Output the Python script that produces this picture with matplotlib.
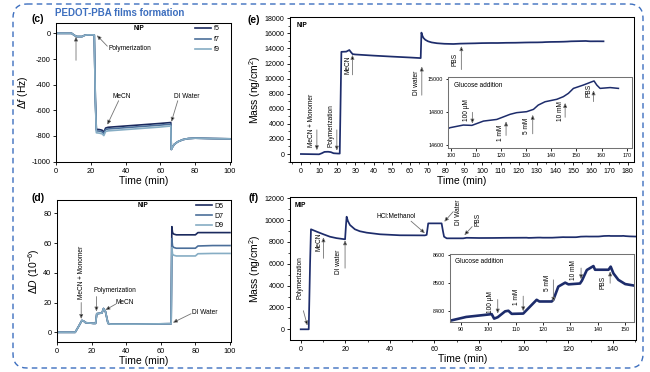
import matplotlib
matplotlib.use('Agg')
import matplotlib.pyplot as plt
from matplotlib.patches import FancyBboxPatch
from matplotlib.ticker import MultipleLocator

plt.rcParams['font.family'] = ['Liberation Sans', 'DejaVu Sans']
plt.rcParams['axes.unicode_minus'] = False
plt.rcParams['mathtext.fontset'] = 'custom'
plt.rcParams['mathtext.rm'] = 'Liberation Sans'
plt.rcParams['mathtext.it'] = 'Liberation Sans:italic'

# ---------------- data ----------------
# (c) frequency shift
c_time = [0, 9, 10.5, 12, 15, 16.5, 18, 22, 22.6, 23.2, 25, 26.5, 27.5, 28.5, 30, 40, 50, 60, 66,
          66.3, 66.8, 68, 70, 73, 76, 80, 90, 100]
f5 = [0, 0, -15, -25, -25, -15, -12, -12, -500, -748, -750, -755, -770, -738, -732, -722, -712, -702, -695,
      -905, -890, -865, -845, -828, -820, -817, -820, -822]
f7 = [0, 0, -15, -25, -25, -15, -12, -12, -510, -760, -762, -768, -782, -750, -745, -735, -725, -715, -708,
      -905, -890, -865, -845, -828, -820, -817, -820, -822]
f9 = [0, 0, -15, -25, -25, -15, -12, -12, -520, -775, -778, -783, -797, -765, -760, -750, -740, -730, -722,
      -905, -890, -865, -845, -828, -820, -817, -820, -822]
c_labels = ['f5', 'f7', 'f9']

# (d) dissipation
d_time = [0, 10.5, 12.5, 14.4, 15.5, 16.5, 21, 22.3, 23, 26, 26.9, 28, 29.5, 31, 45, 66,
          66.4, 66.8, 67.5, 69, 72, 80, 81.5, 90, 100]
D5 = [0, 0, 4, 8, 7.5, 6.5, 6, 6, 12.5, 13, 16, 14, 6, 5.5, 5.5, 5.8,
      71, 67, 66, 65.5, 65.5, 65.5, 67, 67, 67]
D7 = [0, 0, 4, 8, 7.5, 6.5, 6, 6, 12.5, 13, 16, 14, 6, 5.5, 5.5, 5.8,
      63, 58, 57, 56.5, 56.5, 56.5, 58, 58.3, 58.3]
D9 = [0, 0, 4, 8, 7.5, 6.5, 6, 6, 12.5, 13, 16, 14, 6, 5.5, 5.5, 5.8,
      57, 52.5, 51.8, 51.3, 51.3, 51.3, 52.8, 53, 53]
d_labels = ['D5', 'D7', 'D9']

# (e) NIP mass
e_time = [0, 10, 11.5, 13, 15, 16.5, 18, 20.5, 21.4, 21.8, 22.3, 25, 26.7, 27.6, 28.5, 30, 40, 50, 60, 66,
          66.4, 66.9, 67.5, 68.5, 70, 72, 75, 79, 84, 88, 92, 96, 99.7, 105, 108.4, 113, 118.3, 123.6,
          126.2, 130.2, 132.9, 134.8, 137.5, 142.2, 144.8, 146.8, 148.8, 152.7, 156.1, 157, 158.1,
          159.4, 163.4, 166.7]
e_mass = [0, -40, 100, 280, 300, 250, 100, 60, 60, 6000, 13550, 13580, 13790, 13500, 13250, 13200, 13050,
          12920, 12800, 12720, 16100, 15700, 15400, 15150, 14950, 14800, 14690, 14620, 14590, 14640, 14660,
          14680, 14707, 14723, 14721, 14747, 14757, 14788, 14798, 14804, 14818, 14844, 14864, 14879, 14895,
          14915, 14945, 14965, 14985, 14990, 14965, 14945, 14950, 14945]

# (f) MIP mass
f_time = [0, 3.6, 4.2, 4.6, 7.2, 10.2, 13.1, 16, 19.9, 20.3, 20.6, 21.2, 22.1, 24.3, 26.5, 29.6, 35.6,
          44.5, 55.7, 56.5, 57.2, 63.2, 63.8, 64.3, 65.5, 72.9, 74.4, 80, 86.3, 92, 99.5, 101.3, 102.2,
          103.5, 106.2, 107.4, 108.6, 112.8, 115.3, 117.7, 118.7, 123.2, 123.8, 125.6, 128.1, 129.3,
          133.5, 134.2, 136, 138.4, 139, 143.9, 144.7, 145.7, 147.5, 150, 153]
f_mass = [0, 0, 6000, 9160, 8940, 8700, 8480, 8350, 8240, 9500, 10310, 9900, 9550, 9160, 8980, 8850, 8700,
          8610, 8600, 8650, 9700, 9700, 9000, 8480, 8330, 8330, 8380, 8360, 8365, 8378, 8386, 8388, 8372,
          8377, 8398, 8400, 8389, 8390, 8415, 8439, 8433, 8433, 8439, 8486, 8500, 8494, 8497, 8507, 8545,
          8559, 8546, 8546, 8557, 8533, 8510, 8495, 8490]

# ---------------- style ----------------
W, H = 650, 372
fig = plt.figure(figsize=(6.5, 3.72), dpi=100)

NAVY = '#1d2c6b'
QCM_COLORS = ['#1b2a5e', '#4b6f9a', '#86adc4']
BLUE = '#3d6fbf'
TICK = 5.3
ANN = 4.7


def rect(l, t, r, b):
    return [l / W, 1 - b / H, (r - l) / W, (b - t) / H]


def style(ax, size=TICK, length=2.5):
    for s in ax.spines.values():
        s.set_linewidth(0.75)
    ax.tick_params(direction='out', length=length, width=0.6, labelsize=size, pad=1.5)
    ax.tick_params(which='minor', direction='out', length=length * 0.55, width=0.5)


def arrow(ax, x0, y0, x1, y1):
    ax.annotate('', xy=(x1, y1), xytext=(x0, y0),
                arrowprops=dict(arrowstyle='-|>,head_length=0.5,head_width=0.22', ec='0.45', fc='k',
                                lw=0.6, shrinkA=0, shrinkB=0, mutation_scale=5))


def vtext(ax, x, y, s, size=ANN):
    ax.text(x, y, s, rotation=90, ha='center', va='center', fontsize=size)


# background frame (pixel coordinates)
bg = fig.add_axes([0, 0, 1, 1])
bg.set_xlim(0, W)
bg.set_ylim(H, 0)
bg.axis('off')
bg.add_patch(FancyBboxPatch((13, 4), 630, 364, boxstyle='round,pad=0,rounding_size=14',
                            fill=False, ec=BLUE, lw=1.0, ls=(0, (4, 3))))
bg.text(55, 12.5, 'PEDOT-PBA films formation', color=BLUE, fontsize=7, fontweight='bold',
        ha='left', va='center')
for lbl, x, y in [('(c)', 38, 19), ('(d)', 38, 198), ('(e)', 254, 20), ('(f)', 254, 198)]:
    bg.text(x, y, lbl, fontsize=7.5, fontweight='bold', ha='center', va='center')

# ---------------- (c) ----------------
axc = fig.add_axes(rect(56, 22.7, 231, 162.3))
for vals, lab, col in zip([f5, f7, f9], c_labels, QCM_COLORS):
    axc.plot(c_time, vals, color=col, lw=1.2, label=lab)
axc.set_xlim(0, 100.6)
axc.set_ylim(-1005, 83)
axc.set_xticks(range(0, 101, 20))
axc.set_yticks(range(-1000, 1, 200))
style(axc)
axc.set_xlabel('Time (min)', fontsize=7.5, labelpad=1)
axc.set_ylabel(r'$\Delta f$ (Hz)', fontsize=7.5, labelpad=1)
axc.legend(loc='upper right', bbox_to_anchor=(0.95, 1.0), frameon=False, fontsize=5.0,
           handlelength=2.3, handletextpad=0.3, labelspacing=0.5, borderaxespad=0)
axc.text(48, 40, 'NIP', fontsize=4.7, fontweight='bold', ha='center', va='center')
arrow(axc, 11.5, -210, 11.5, -25)
axc.text(30, -115, 'Polymerization', fontsize=ANN, ha='left', va='center')
arrow(axc, 29.5, -100, 23.5, -15)
axc.text(38, -495, 'MeCN', fontsize=ANN, ha='center', va='center')
arrow(axc, 36, -525, 29.5, -712)
axc.text(68, -495, 'DI Water', fontsize=ANN, ha='left', va='center')
arrow(axc, 70, -525, 66.3, -690)

# ---------------- (d) ----------------
axd = fig.add_axes(rect(57, 200, 231, 342.3))
for vals, lab, col in zip([D5, D7, D9], d_labels, QCM_COLORS):
    axd.plot(d_time, vals, color=col, lw=1.2, label=lab)
axd.set_xlim(0, 100.6)
axd.set_ylim(-6.7, 88.9)
axd.set_xticks(range(0, 101, 20))
axd.set_yticks(range(0, 81, 20))
style(axd)
axd.set_xlabel('Time (min)', fontsize=7.5, labelpad=1)
axd.set_ylabel(r'$\Delta D$ (10$^{-6}$)', fontsize=7.5, labelpad=1)
axd.legend(loc='upper right', bbox_to_anchor=(0.97, 1.0), frameon=False, fontsize=5.0,
           handlelength=2.3, handletextpad=0.3, labelspacing=0.4, borderaxespad=0)
axd.text(50, 85, 'NIP', fontsize=4.7, fontweight='bold', ha='center', va='center')
vtext(axd, 14, 40, 'MeCN + Monomer')
arrow(axd, 14, 20, 14, 9)
axd.text(21, 28.4, 'Polymerization', fontsize=ANN, ha='left', va='center')
arrow(axd, 22.8, 24, 22.8, 14)
axd.text(34, 20, 'MeCN', fontsize=ANN, ha='left', va='center')
arrow(axd, 34, 19, 28, 15)
axd.text(78, 13, 'DI Water', fontsize=ANN, ha='left', va='center')
arrow(axd, 77.5, 12.5, 67, 6.5)

# ---------------- (e) ----------------
axe = fig.add_axes(rect(290, 17.3, 634, 162.3))
axe.plot(e_time, e_mass, color=NAVY, lw=1.25)
axe.set_xlim(-6, 183.5)
axe.set_ylim(-1100, 18130)
axe.xaxis.set_major_locator(MultipleLocator(10))
axe.xaxis.set_minor_locator(MultipleLocator(5))
axe.yaxis.set_major_locator(MultipleLocator(2000))
axe.yaxis.set_minor_locator(MultipleLocator(1000))
style(axe, size=5.1)
axe.set_xlabel('Time (min)', fontsize=7.5, labelpad=1)
axe.set_ylabel('Mass (ng/cm$^2$)', fontsize=7.5, labelpad=1)
axe.text(-2.2, 17000, 'NIP', fontsize=4.7, fontweight='bold', ha='left', va='center')
vtext(axe, 5.8, 4400, 'MeCN + Monomer')
arrow(axe, 8.8, 3200, 8.8, 500)
vtext(axe, 16.8, 3800, 'Polymerization')
arrow(axe, 19.8, 3200, 19.8, 450)
vtext(axe, 26.2, 11800, 'MeCN')
arrow(axe, 28.4, 10500, 28.4, 13150)
vtext(axe, 63.5, 9400, 'DI water')
arrow(axe, 66.6, 7800, 66.6, 11600)
vtext(axe, 85, 12600, 'PBS')
arrow(axe, 88.4, 11200, 88.4, 14300)

axei = fig.add_axes(rect(448, 77, 632, 148))
axei.plot(e_time, e_mass, color=NAVY, lw=1.1)
axei.set_xlim(98.9, 172.1)
axei.set_ylim(14584, 15014)
axei.set_xticks(range(100, 171, 10))
axei.set_yticks([14600, 14800, 15000])
style(axei, size=3.9, length=1.8)
for s in axei.spines.values():
    s.set_edgecolor('0.45')
axei.text(101.3, 14965, 'Glucose addition', fontsize=ANN, ha='left', va='center')
vtext(axei, 106.4, 14815, '100 µM')
arrow(axei, 108.6, 14800, 108.6, 14732)
vtext(axei, 119.6, 14675, '1 mM')
arrow(axei, 122, 14660, 122, 14745)
vtext(axei, 130.2, 14718, '5 mM')
arrow(axei, 132.6, 14670, 132.6, 14785)
vtext(axei, 143.5, 14805, '10 mM')
arrow(axei, 145.5, 14770, 145.5, 14857)
vtext(axei, 155, 14935, 'PBS')
arrow(axei, 156.8, 14865, 156.8, 14933)

# ---------------- (f) ----------------
axf = fig.add_axes(rect(290, 197, 636, 340))
axf.plot(f_time, f_mass, color=NAVY, lw=1.25)
axf.set_xlim(-4.8, 150.4)
axf.set_ylim(-980, 12115)
axf.xaxis.set_major_locator(MultipleLocator(20))
axf.xaxis.set_minor_locator(MultipleLocator(10))
axf.yaxis.set_major_locator(MultipleLocator(2000))
axf.yaxis.set_minor_locator(MultipleLocator(1000))
style(axf, size=5.1)
axf.set_xlabel('Time (min)', fontsize=7.5, labelpad=1)
axf.set_ylabel('Mass (ng/cm$^2$)', fontsize=7.5, labelpad=1)
axf.text(-2.6, 11380, 'MIP', fontsize=4.7, fontweight='bold', ha='left', va='center')
vtext(axf, -0.3, 4700, 'Polymerization')
arrow(axf, 1.2, 1700, 3.0, 350)
vtext(axf, 8.2, 8000, 'MeCN')
arrow(axf, 10.2, 6500, 10.2, 8420)
vtext(axf, 16.9, 6200, 'DI water')
arrow(axf, 19.9, 5600, 19.9, 8150)
axf.text(43, 10310, 'HCl:Methanol', fontsize=ANN, ha='center', va='center')
arrow(axf, 49.5, 9900, 55.7, 8800)
vtext(axf, 70.7, 10700, 'DI Water')
arrow(axf, 68.4, 10770, 64.4, 9850)
vtext(axf, 79.5, 10100, 'PBS')
arrow(axf, 76.9, 9400, 73.4, 8620)

axfi = fig.add_axes(rect(450, 254, 634, 322))
axfi.plot(f_time, f_mass, color=NAVY, lw=1.9)
axfi.set_xlim(86.1, 153.2)
axfi.set_ylim(8360, 8602)
axfi.set_xticks(range(90, 151, 10))
axfi.set_yticks([8400, 8500, 8600])
style(axfi, size=3.9, length=1.8)
for s in axfi.spines.values():
    s.set_edgecolor('0.45')
axfi.text(87.9, 8574, 'Glucose addition', fontsize=ANN, ha='left', va='center')
vtext(axfi, 101, 8432, '100 µM')
arrow(axfi, 103.5, 8440, 103.5, 8390)
vtext(axfi, 110.4, 8451, '1 mM')
arrow(axfi, 112.8, 8452, 112.8, 8398)
vtext(axfi, 121.7, 8499, '5 mM')
arrow(axfi, 123.8, 8510, 123.8, 8432)
vtext(axfi, 131.1, 8545, '10 mM')
arrow(axfi, 133.9, 8552, 133.9, 8512)
vtext(axfi, 142, 8500, 'PBS')
arrow(axfi, 144.5, 8498, 144.5, 8540)

fig.savefig('out.png', dpi=100)
